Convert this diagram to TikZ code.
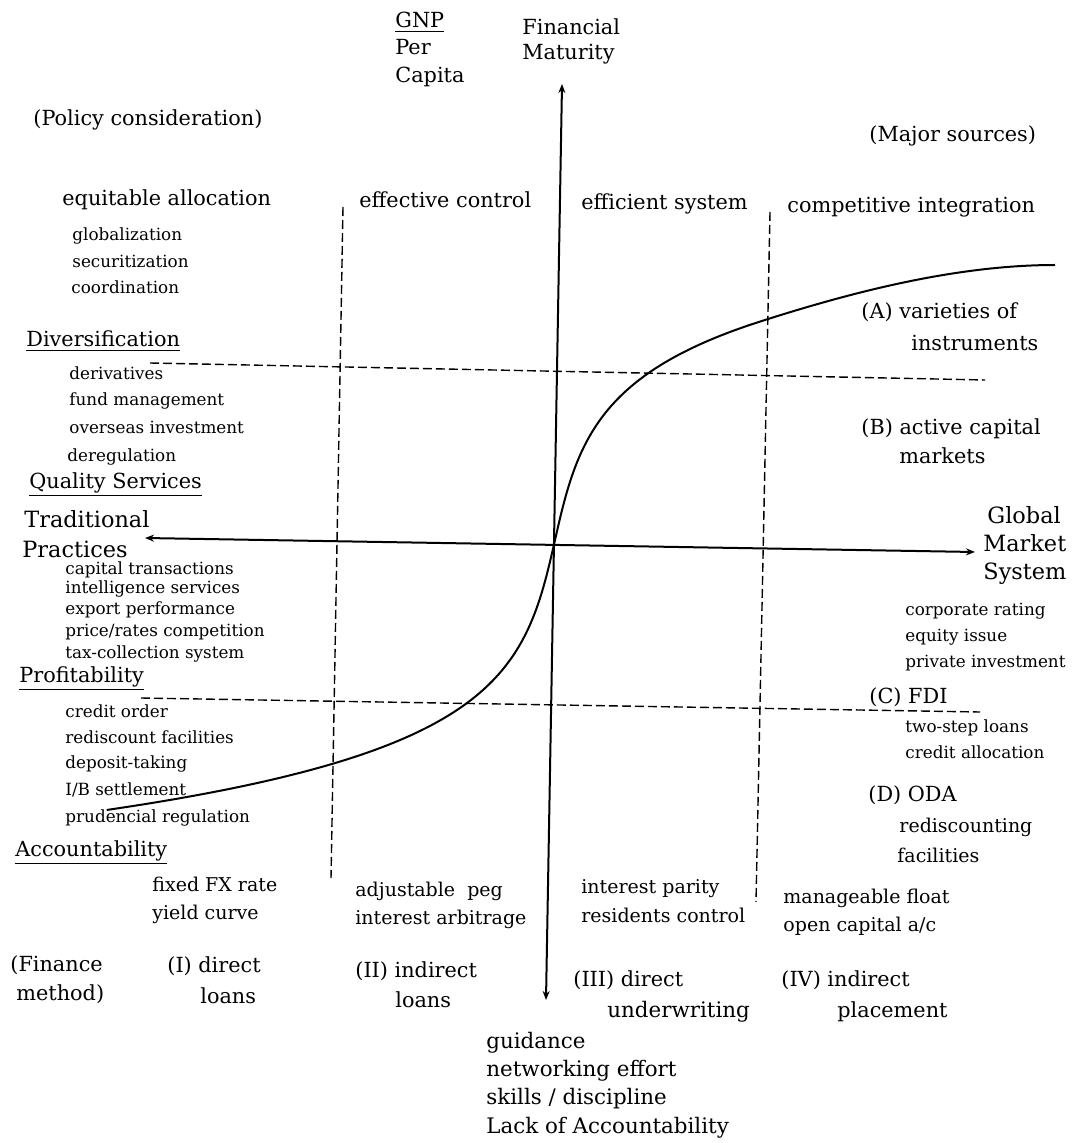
\documentclass[tikz,border=0pt]{standalone}
\usepackage{fontspec}
\setmainfont{DejaVu Serif}
\usetikzlibrary{arrows.meta}
\begin{document}
\begin{tikzpicture}[x=0.5pt,y=-0.5pt,
  txt/.style={anchor=base west, inner sep=0pt, font=\fontsize{10.4}{12}\selectfont},
  sm/.style={anchor=base west, inner sep=0pt, font=\fontsize{8.4}{10}\selectfont},
  md/.style={anchor=base west, inner sep=0pt, font=\fontsize{9.5}{11}\selectfont},
  lg/.style={anchor=base west, inner sep=0pt, font=\fontsize{10.7}{12}\selectfont},
  big/.style={anchor=base west, inner sep=0pt, font=\fontsize{11.2}{13}\selectfont},
  axis/.style={line width=1pt, {Stealth[length=4.5pt,width=3.5pt]}-{Stealth[length=4.5pt,width=3.5pt]}},
  grid/.style={line width=0.7pt, dash pattern=on 4.5pt off 2pt},
  curve/.style={line width=1pt}]
\useasboundingbox (0,0) rectangle (1078,1143);
% ---- axes ----
\coordinate (vtop) at (562,84);
\coordinate (vbot) at (546,1000);
\coordinate (hleft) at (145,538);
\coordinate (hright) at (975,552);
\draw[axis] (vbot) -- (vtop);
\draw[axis] (hleft) -- (hright);
% ---- dashed grid ----
\coordinate (dl1) at (343,207); \coordinate (dl2) at (331,878);
\coordinate (dr1) at (770,212); \coordinate (dr2) at (756,902);
\coordinate (dt1) at (150,363); \coordinate (dt2) at (985,380);
\coordinate (db1) at (141,698); \coordinate (db2) at (980,712);
\draw[grid] (dl1) -- (dl2);
\draw[grid] (dr1) -- (dr2);
\draw[grid] (dt1) -- (dt2);
\draw[grid] (db1) -- (db2);
% ---- S curve ----
\coordinate (cend) at (1055,265);
\draw[curve] plot[smooth, domain=-270:220, samples=90, variable=\t] ({555+15*sinh(\t/66)}, {540-\t})
  .. controls (859,290) and (960,265) .. (cend);
% ---- top labels ----
\node[txt] (gnp) at (395,28) {\underline{GNP}};
\node[txt] (per) at (395,55) {Per};
\node[txt] (cap) at (395,83) {Capita};
\node[txt] (fin) at (522,35) {Financial};
\node[txt] (mat) at (522,60) {Maturity};
\node[txt] (policy) at (33,126) {(Policy consideration)};
\node[txt] (major) at (869,142) {(Major sources)};
\node[txt] (equit) at (62,206) {equitable allocation};
\node[txt] (effect) at (359,208) {effective control};
\node[txt] (effic) at (581,210) {efficient system};
\node[txt] (compet) at (787,213) {competitive integration};
% ---- left column ----
\node[sm] (glob) at (72,241) {globalization};
\node[sm] (secu) at (72,268) {securitization};
\node[sm] (coord) at (71,294) {coordination};
\node[txt] (divers) at (26,347) {\underline{Diversification}};
\node[sm] (deriv) at (69,380) {derivatives};
\node[sm] (fund) at (69,406) {fund management};
\node[sm] (overs) at (69,434) {overseas investment};
\node[sm] (dereg) at (67,461) {deregulation};
\node[txt] (quality) at (29,488) {\underline{Quality Services}};
\node[big] (trad) at (24,527) {Traditional};
\node[big] (pract) at (22,557) {Practices};
\node[sm] (captr) at (65,574) {capital transactions};
\node[sm] (intel) at (65,593) {intelligence services};
\node[sm] (export) at (65,614) {export performance};
\node[sm] (price) at (65,636) {price/rates competition};
\node[sm] (tax) at (65,658) {tax-collection system};
\node[txt] (profit) at (19,682) {\underline{Profitability}};
\node[sm] (credit) at (65,717) {credit order};
\node[sm] (redis) at (65,743) {rediscount facilities};
\node[sm] (depos) at (65,768) {deposit-taking};
\node[sm] (ibset) at (65,795) {I/B settlement};
\node[sm] (prud) at (65,822) {prudencial regulation};
\node[txt] (acct) at (15,856) {\underline{Accountability}};
% ---- right column ----
\node[txt] (varA) at (861,319) {(A) varieties of};
\node[txt] (instr) at (911,351) {instruments};
\node[txt] (actB) at (861,435) {(B) active capital};
\node[txt] (mkts) at (899,464) {markets};
\node[big] (glob2) at (987,523) {Global};
\node[big] (market) at (983,551) {Market};
\node[big] (system) at (983,579) {System};
\node[sm] (corp) at (905,615) {corporate rating};
\node[sm] (equity) at (905,641) {equity issue};
\node[sm] (priv) at (905,667) {private investment};
\node[txt] (fdi) at (869,703) {(C) FDI};
\node[sm] (twostep) at (905,732) {two-step loans};
\node[sm] (credall) at (905,758) {credit allocation};
\node[txt] (oda) at (868,801) {(D) ODA};
\node[md] (redisc) at (899,832) {rediscounting};
\node[md] (facil) at (897,862) {facilities};
% ---- bottom rows ----
\node[md] (fixed) at (152,891) {fixed FX rate};
\node[md] (yield) at (152,919) {yield curve};
\node[md] (adjust) at (355,896) {adjustable\ \ peg};
\node[md] (arbit) at (355,924) {interest arbitrage};
\node[md] (parity) at (581,893) {interest parity};
\node[md] (resid) at (581,922) {residents control};
\node[md] (manag) at (783,903) {manageable float};
\node[md] (open) at (783,931) {open capital a/c};
\node[txt] (finm1) at (10,971) {(Finance};
\node[txt] (finm2) at (16,1000) {method)};
\node[txt] (dir1) at (167,972) {(I) direct};
\node[txt] (dir2) at (200,1003) {loans};
\node[txt] (ind1) at (355,977) {(II) indirect};
\node[txt] (ind2) at (395,1007) {loans};
\node[txt] (und1) at (573,986) {(III) direct};
\node[lg] (und2) at (607,1017) {underwriting};
\node[txt] (plc1) at (781,986) {(IV) indirect};
\node[txt] (plc2) at (837,1017) {placement};
\node[lg] (guid) at (486,1048) {guidance};
\node[lg] (netw) at (486,1076) {networking effort};
\node[lg] (skill) at (486,1104) {skills / discipline};
\node[lg] (lack) at (486,1133) {Lack of Accountability};
\end{tikzpicture}
\end{document}
